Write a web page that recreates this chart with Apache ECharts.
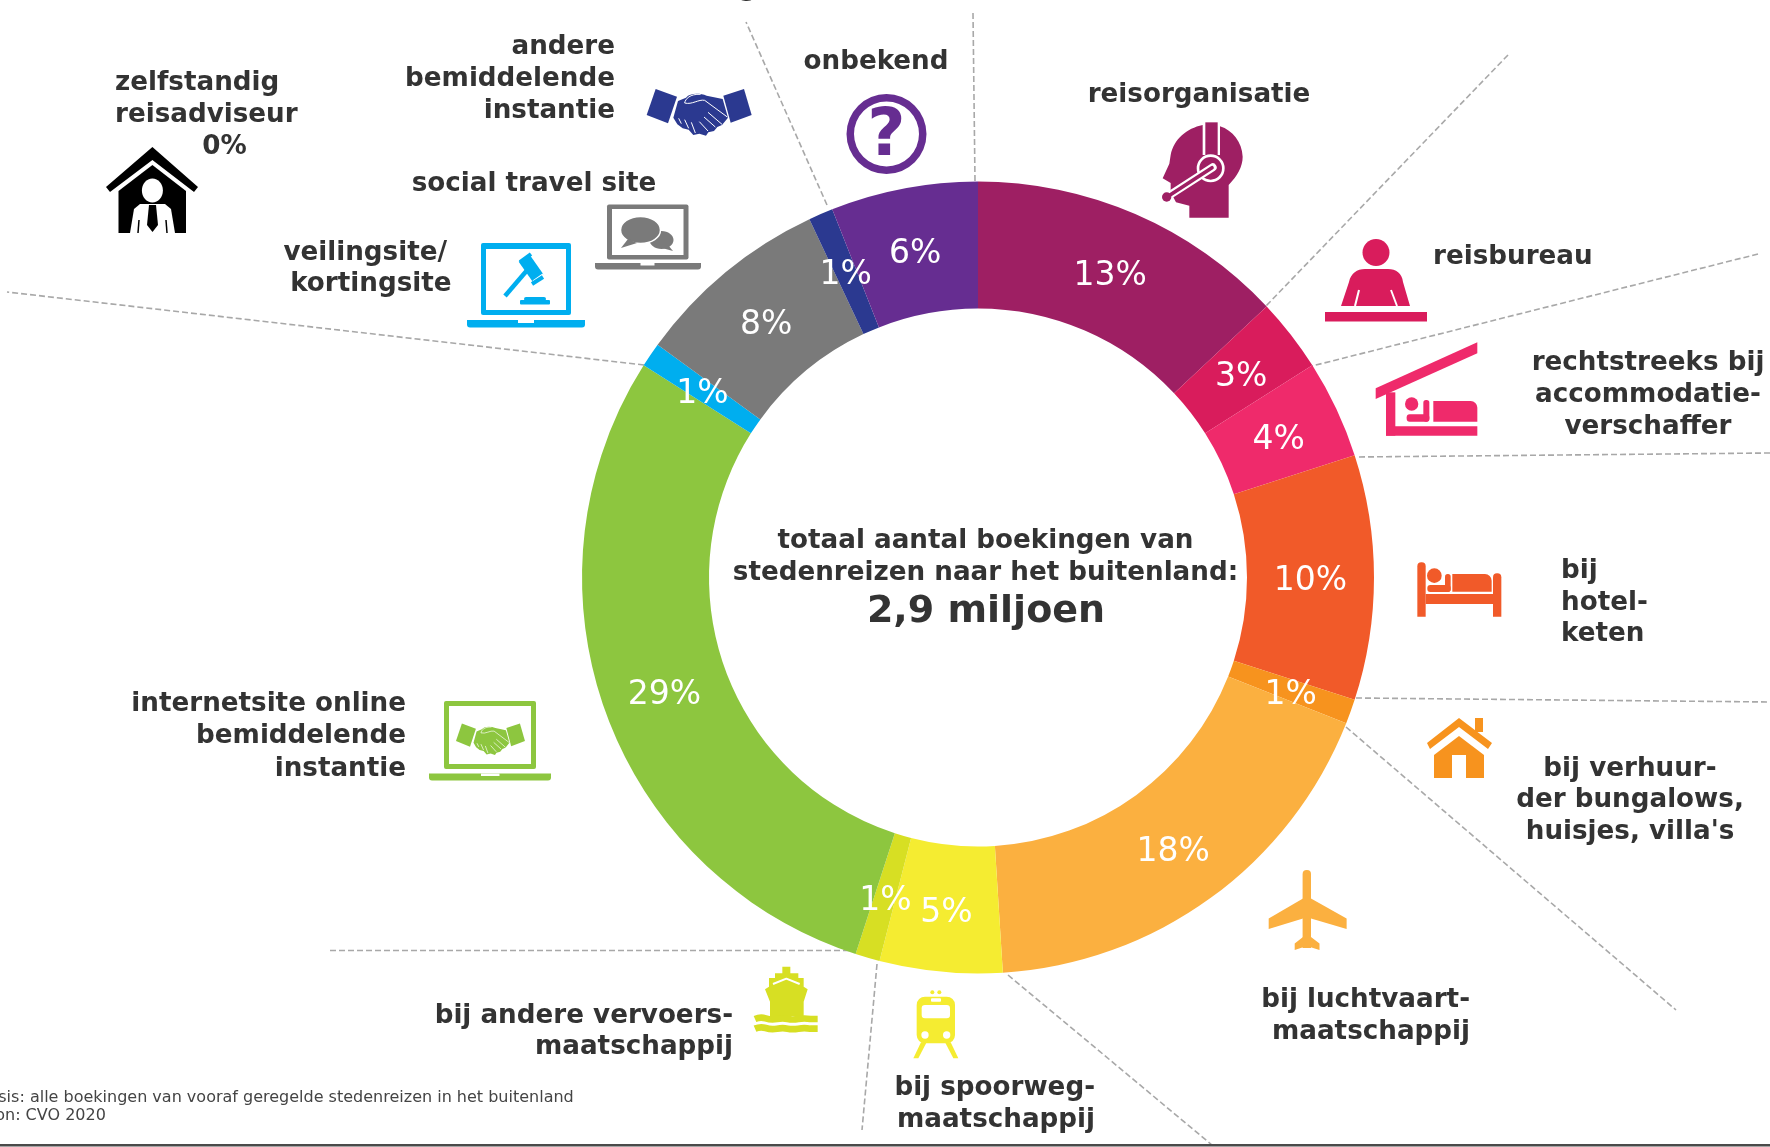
<!DOCTYPE html>
<html>
<head>
<meta charset="utf-8">
<title>Boekingen stedenreizen</title>
<style>
html, body { margin: 0; padding: 0; background: #fff; overflow: hidden; }
#chart { width: 1770px; height: 1147px; }
</style>
<script src="https://cdn.jsdelivr.net/npm/echarts@6/dist/echarts.min.js"></script>
</head>
<body>
<div id="chart"></div>
<script>
// aandeel per boekingskanaal, met de klok mee vanaf 12 uur
var categories = ['reisorganisatie', 'reisbureau', 'rechtstreeks bij accommodatieverschaffer', 'bij hotelketen',
    "bij verhuurder bungalows, huisjes, villa's", 'bij luchtvaartmaatschappij', 'bij spoorwegmaatschappij',
    'bij andere vervoersmaatschappij', 'internetsite online bemiddelende instantie', 'veilingsite/kortingsite',
    'social travel site', 'andere bemiddelende instantie', 'onbekend', 'zelfstandig reisadviseur'];
var shares = [13, 3, 4, 10, 1, 18, 5, 1, 29, 1, 8, 1, 6, 0];
var sliceColors = ['#9E1F63', '#D91C5C', '#EF2A6B', '#F15A29', '#F7931E', '#FBB040', '#F5EC31',
    '#D7DF23', '#8DC63F', '#00AEEF', '#7A7A7A', '#2B3990', '#662D91', '#000000'];
var centerLines = ['totaal aantal boekingen van', 'stedenreizen naar het buitenland:'];
var centerTotal = '2,9 miljoen';
var footnotes = ['Basis: alle boekingen van vooraf geregelde stedenreizen in het buitenland', 'Bron: CVO 2020'];

var textColor = '#333333';
var labelFont = 'bold 26.2px "DejaVu Sans"';
// kleine verschuiving van de percentages binnen de ring
var labelNudge = [[-1, 7], [-2, 6], [-3, 6], [-3, 4], [-3, 4], [-2, 3], [0, 2], [1, 2], [2, 4], [2, 6], [2, 6], [1, 6], [0, 6], [0, 0]];

var myChart = echarts.init(document.getElementById('chart'), null, { renderer: 'canvas' });

var shapeCount = 0;
function pathEl(d, style) {
    var name = 'iconShape' + (shapeCount++);
    echarts.graphic.registerShape(name, echarts.graphic.extendPath(d, {}));
    return { type: name, style: style };
}
function fillPath(d, c) { return pathEl(d, { fill: c }); }
function linePath(d, c, w, cap) { return pathEl(d, { fill: null, stroke: c, lineWidth: w, lineCap: cap || 'butt', lineJoin: 'round' }); }
function rect(x, y, w, h, c, r) { return { type: 'rect', shape: { x: x, y: y, width: w, height: h, r: r || 0 }, style: { fill: c } }; }
function circle(x, y, r, c) { return { type: 'circle', shape: { cx: x, cy: y, r: r }, style: { fill: c } }; }
function ellipse(x, y, rx, ry, c) { return { type: 'ellipse', shape: { cx: x, cy: y, rx: rx, ry: ry }, style: { fill: c } }; }
function poly(points, c) { return { type: 'polygon', shape: { points: points }, style: { fill: c } }; }
function seg(x1, y1, x2, y2, c, w, dash) {
    return { type: 'line', shape: { x1: x1, y1: y1, x2: x2, y2: y2 }, style: { stroke: c, lineWidth: w, lineDash: dash || null } };
}
function icon(x, y, s, children, sy) {
    return { type: 'group', x: x, y: y, scaleX: s, scaleY: sy || s, children: children };
}
function txt(text, x, y, align, font, color) {
    return { type: 'text', x: x, y: y + 2.3, style: { text: text, font: font || labelFont, fill: color || textColor, textAlign: align || 'left', textVerticalAlign: 'middle' } };
}

// scheidingslijnen tussen de groepen
var dashColor = '#A8A8A8';
var dividers = [
    [973, 13, 975, 181], [1508, 55, 1266, 306], [1758, 254, 1312, 366], [1770, 453, 1356, 457],
    [1356, 698, 1770, 702], [1346, 727, 1676, 1010], [1008, 975, 1212, 1145], [877, 964, 862, 1130],
    [849, 950.5, 328, 950.5], [644, 365, 7, 292], [827, 205, 746, 22]
].map(function (p) { return seg(p[0], p[1], p[2], p[3], dashColor, 1.6, [6, 3]); });

// teksten rond de ring
var outerText = [
    txt('zelfstandig', 115, 81), txt('reisadviseur', 115, 113), txt('0%', 224.5, 144.5, 'center'),
    txt('andere', 615, 45, 'right'), txt('bemiddelende', 615, 77, 'right'), txt('instantie', 615, 109, 'right'),
    txt('onbekend', 876, 60, 'center'),
    txt('reisorganisatie', 1199, 92.5, 'center'),
    txt('reisbureau', 1433, 255),
    txt('rechtstreeks bij', 1648, 361, 'center'), txt('accommodatie-', 1648, 393, 'center'), txt('verschaffer', 1648, 425, 'center'),
    txt('bij', 1561, 569), txt('hotel-', 1561, 600.5), txt('keten', 1561, 632),
    txt('bij verhuur-', 1630, 766.5, 'center'), txt('der bungalows,', 1630, 798, 'center'), txt("huisjes, villa's", 1630, 830, 'center'),
    txt('bij luchtvaart-', 1470, 998, 'right'), txt('maatschappij', 1470, 1029.5, 'right'),
    txt('bij spoorweg-', 1095, 1086, 'right'), txt('maatschappij', 1095, 1117.5, 'right'),
    txt('bij andere vervoers-', 733, 1013.5, 'right'), txt('maatschappij', 733, 1045, 'right'),
    txt('internetsite online', 406, 702, 'right'), txt('bemiddelende', 406, 734, 'right'), txt('instantie', 406, 766.5, 'right'),
    txt('veilingsite/', 447, 250.5, 'right'), txt('kortingsite', 451.5, 282, 'right'),
    txt('social travel site', 534, 181.5, 'center'),
    // afgesneden woord bovenaan het beeld
    txt('g', 748, -14, 'center'),
    txt(centerLines[0], 985.5, 538.5, 'center'), txt(centerLines[1], 985.5, 571, 'center'),
    txt(centerTotal, 986, 609.5, 'center', 'bold 38px "DejaVu Sans"'),
    txt(footnotes[0], -22.5, 1095.5, 'left', '16px "DejaVu Sans"', '#444444'),
    txt(footnotes[1], -22, 1114, 'left', '16px "DejaVu Sans"', '#444444')
];

// handdruk, getekend in eigen coordinaten
function handshake(c, w) {
    return [
        poly([[47, 42], [111, 65], [84, 145], [20, 120]], c),
        poly([[250, 62], [312, 42], [335, 120], [272, 143]], c),
        fillPath('M114 78 L138 68 C150 54 178 54 200 62 L248 72 L264 128 L246 150 L232 156 L222 168 L205 172 L198 182 L178 176 L160 180 L146 164 L128 160 L112 148 L100 128 Z', c),
        linePath('M262 126 L194 76 C176 72 156 90 134 84 C136 72 150 56 182 58', w, 3),
        linePath('M204 112 L246 148', w, 3), linePath('M192 126 L226 156', w, 3), linePath('M178 140 L204 168', w, 3),
        linePath('M116 130 L124 146', w, 3), linePath('M134 134 L146 160', w, 3), linePath('M154 142 L166 174', w, 3)
    ];
}

var white = '#FFFFFF';
var cMaroon = sliceColors[0], cRed = sliceColors[1], cPink = sliceColors[2], cOrange = sliceColors[3], cDark = sliceColors[4],
    cLight = sliceColors[5], cYellow = sliceColors[6], cLime = sliceColors[7], cGreen = sliceColors[8], cBlue = sliceColors[9],
    cGrey = sliceColors[10], cNavy = sliceColors[11], cPurple = sliceColors[12];

var icons = [
    // zelfstandig reisadviseur
    icon(0, 0, 1, [
        poly([[152.4, 147], [198, 187], [194, 192], [152.4, 160], [110, 192], [106, 187]], '#000'),
        poly([[152.4, 165], [186, 191], [186, 233], [118.5, 233], [118.5, 191]], '#000'),
        ellipse(152.4, 190.5, 10.5, 12, white),
        poly([[140, 204], [165, 204], [171, 209], [175, 233], [130, 233], [134, 209]], white),
        poly([[149, 205], [156, 205], [158, 225], [152.5, 232], [147, 225]], '#000'),
        seg(139, 220, 138, 233, '#000', 1.5), seg(166, 220, 167, 233, '#000', 1.5)
    ]),
    // andere bemiddelende instantie
    icon(640, 75, 1 / 3, handshake(cNavy, white)),
    // onbekend
    icon(0, 0, 1, [
        { type: 'ring', shape: { cx: 886.5, cy: 134, r: 40, r0: 32.5 }, style: { fill: cPurple } },
        txt('?', 886.5, 136, 'center', 'bold 66px "DejaVu Sans"', cPurple)
    ]),
    // reisorganisatie
    icon(1150, 115, 1 / 3, [
        fillPath('M158 30 C110 40 72 72 62 120 L58 146 L38 190 L62 204 L62 232 L78 262 L118 272 L118 308 L236 308 L236 210 C262 182 278 155 278 125 C276 82 248 46 210 34 L210 120 L158 120 Z', cMaroon),
        rect(166, 22, 37, 100, cMaroon),
        { type: 'circle', shape: { cx: 182, cy: 160, r: 38 }, style: { fill: cMaroon, stroke: white, lineWidth: 8 } },
        linePath('M188 157 L50 246', white, 24, 'round'),
        linePath('M186 158 L52 245', cMaroon, 11, 'round'),
        { type: 'circle', shape: { cx: 50, cy: 246, r: 14 }, style: { fill: cMaroon } }
    ]),
    // reisbureau
    icon(0, 0, 1, [
        circle(1376, 252.5, 13.5, cRed),
        fillPath('M1341 306 L1349 282 C1351 273 1357 269 1365 269 L1388 269 C1396 269 1402 273 1403 282 L1410 306 Z', cRed),
        seg(1359, 290, 1355, 306, white, 2), seg(1391, 290, 1397, 306, white, 2),
        rect(1325, 312, 102, 9.5, cRed)
    ]),
    // rechtstreeks bij accommodatieverschaffer
    icon(1370, 335, 1 / 3, [
        poly([[17, 160], [322, 22], [322, 55], [17, 192]], cPink),
        rect(48, 172, 28, 130, cPink),
        rect(48, 274, 274, 28, cPink),
        circle(125, 207, 20, cPink),
        rect(110, 238, 68, 22, cPink, 9),
        rect(160, 195, 18, 65, cPink, 8),
        rect(190, 198, 132, 62, cPink, [0, 20, 0, 0])
    ]),
    // bij hotelketen
    icon(1405, 545, 1 / 3, [
        rect(37, 52, 25, 163, cOrange, [12, 12, 0, 0]),
        rect(264, 85, 25, 130, cOrange, [12, 12, 0, 0]),
        rect(62, 147, 202, 30, cOrange),
        circle(88, 92, 22, cOrange),
        rect(67, 120, 70, 21, cOrange, 9),
        rect(120, 87, 17, 54, cOrange, 8),
        rect(142, 87, 118, 53, cOrange, [0, 20, 0, 0])
    ]),
    // bij verhuurder
    icon(0, 0, 1, [
        rect(1475, 718, 8, 14, cDark),
        poly([[1459, 718], [1492, 743], [1488, 749], [1459, 727], [1430, 749], [1427, 743]], cDark),
        poly([[1459, 736], [1484, 755], [1484, 778], [1434, 778], [1434, 755]], cDark),
        rect(1452, 755, 14, 23, white)
    ]),
    // bij luchtvaartmaatschappij
    icon(0, 0, 1, [
        rect(1302.6, 870, 8.4, 78, cLight, [4, 4, 0, 0]),
        poly([[1303, 898.5], [1268.7, 918.5], [1268.7, 929], [1303, 918.5]], cLight),
        poly([[1311, 898.5], [1346.6, 918.5], [1346.6, 929], [1311, 918.5]], cLight),
        poly([[1303, 937], [1294.7, 943.5], [1294.7, 950], [1306.8, 946], [1319.5, 950], [1319.5, 943.5], [1311, 937]], cLight)
    ]),
    // bij spoorwegmaatschappij
    icon(895, 975, 1 / 3, [
        circle(112, 52, 6, cYellow), circle(133, 52, 6, cYellow),
        rect(65, 65, 115, 140, cYellow, 25),
        rect(80, 90, 85, 40, white, 10),
        rect(108, 70, 30, 10, white, 3),
        circle(90, 180, 11, white), circle(155, 180, 11, white),
        poly([[78, 202], [95, 202], [70, 250], [55, 250]], cYellow),
        poly([[150, 202], [167, 202], [190, 250], [175, 250]], cYellow)
    ]),
    // bij andere vervoersmaatschappij
    icon(745, 960, 1 / 3, [
        poly([[112, 20], [136, 20], [136, 40], [160, 40], [160, 54], [176, 54], [176, 80], [188, 88], [176, 125], [176, 168], [75, 168], [75, 125], [60, 88], [72, 80], [72, 54], [90, 54], [90, 40], [112, 40]], cLime),
        linePath('M84 72 L124 56 L164 72', white, 6),
        linePath('M30 177 Q46 170 62 175 T96 177 T128 177 T160 177 T196 177 L218 177', cLime, 20),
        linePath('M30 206 Q46 199 62 204 T96 206 T128 206 T160 206 T196 206 L218 206', cLime, 20)
    ]),
    // internetsite online bemiddelende instantie
    icon(0, 0, 1, [
        rect(444, 701, 92, 68, cGreen, 2), rect(449, 706, 82, 58, white),
        rect(429, 773.5, 122, 7, cGreen, [0, 0, 3, 3]), rect(481, 773.5, 18.5, 2.5, white)
    ]),
    icon(451.6, 714, 0.219, handshake(cGreen, white), 0.225),
    // veilingsite/kortingsite
    icon(0, 0, 1, [
        rect(481, 243, 90, 72, cBlue, 2), rect(486, 249, 80, 61, white),
        rect(467, 320, 118, 7.5, cBlue, [0, 0, 3, 3]), rect(518, 320, 16, 3, white),
        seg(505, 296, 529, 268, cBlue, 4.5),
        seg(524, 258, 538, 278, cBlue, 13),
        seg(520, 259, 530, 251, white, 1.5), seg(533, 281, 543, 274, white, 1.5),
        seg(520, 262, 531, 254, cBlue, 4), seg(532, 284, 543, 277, cBlue, 4),
        rect(524, 297, 22, 4, cBlue, 2), rect(520, 300, 30, 4.5, cBlue, 1)
    ]),
    // social travel site
    icon(0, 0, 1, [
        rect(607, 204.5, 81.5, 55, cGrey, 2), rect(612, 209, 71.5, 46, white),
        rect(595, 263, 106, 6.5, cGrey, [0, 0, 3, 3]), rect(640.5, 263, 14, 2.5, white),
        ellipse(661.5, 240, 12, 9, cGrey), poly([[668, 245], [673, 251], [662, 248]], cGrey),
        { type: 'ellipse', shape: { cx: 640.5, cy: 230, rx: 20, ry: 13.5 }, style: { fill: cGrey, stroke: white, lineWidth: 1.5 } },
        poly([[628, 239], [621, 248], [637, 243]], cGrey)
    ]),
    // lijn onder de figuur
    rect(0, 1144, 1770, 2.5, '#4A4A4A')
];

var option = {
    animation: false,
    backgroundColor: '#ffffff',
    series: [
        {
            name: 'boekingen',
            type: 'pie',
            center: [978, 577.5],
            radius: [269, 396],
            startAngle: 90,
            clockwise: true,
            avoidLabelOverlap: false,
            silent: true,
            label: {
                show: true,
                position: 'inside',
                formatter: '{c}%',
                color: '#ffffff',
                fontFamily: 'DejaVu Sans',
                fontSize: 33
            },
            labelLine: { show: false },
            data: categories.map(function (name, i) {
                return {
                    name: name,
                    value: shares[i],
                    itemStyle: { color: sliceColors[i] },
                    label: { show: shares[i] > 0, offset: labelNudge[i] }
                };
            })
        }
    ],
    graphic: { elements: dividers.concat(icons, outerText) }
};

myChart.setOption(option);
window.addEventListener('resize', function () { myChart.resize(); });
</script>
</body>
</html>
